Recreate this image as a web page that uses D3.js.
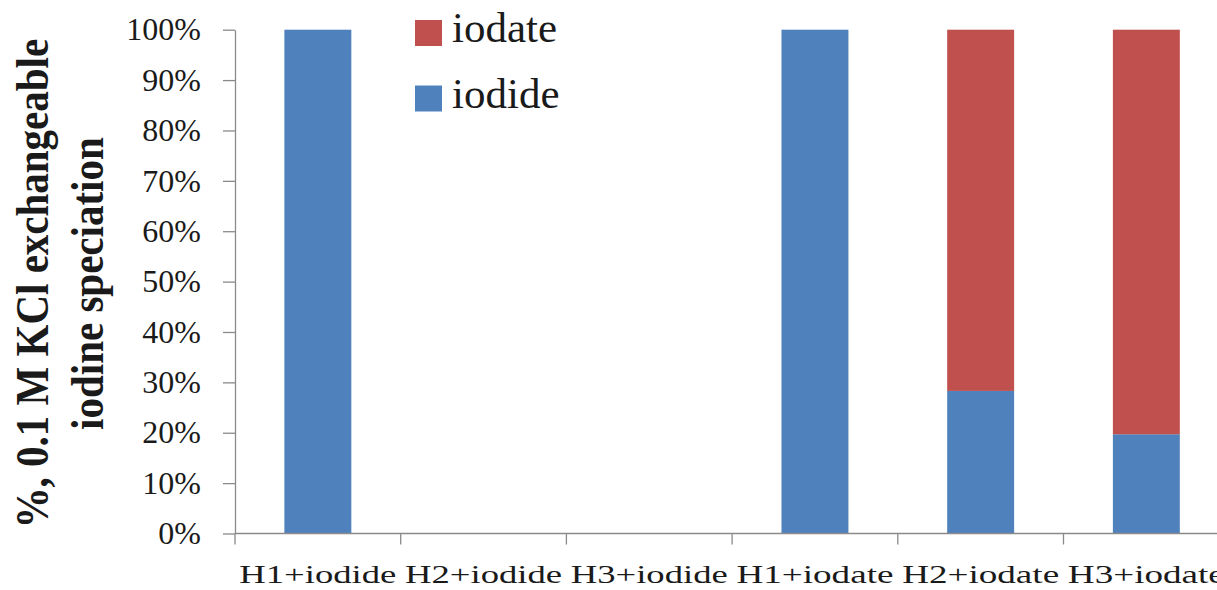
<!DOCTYPE html>
<html>
<head>
<meta charset="utf-8">
<script src="https://cdn.jsdelivr.net/npm/d3@7"></script>
<style>
  html, body { margin: 0; padding: 0; background: #fff; overflow: hidden; }
  svg { display: block; font-family: "Liberation Serif", "DejaVu Serif", serif; }
</style>
</head>
<body>
<svg id="chart" width="1217" height="590"></svg>
<script>
// Treatments on the x axis
const categories = ["H1+iodide", "H2+iodide", "H3+iodide", "H1+iodate", "H2+iodate", "H3+iodate"];
// Share of KCl-exchangeable iodine (%) per species
const iodide = [100, 0, 0, 100, 28.3, 19.7];
const iodate = [0, 0, 0, 0, 71.7, 80.3];
const seriesNames = ["iodide", "iodate"];
const seriesColors = ["#4F81BD", "#C0504D"];
const yTicks = [0, 0.1, 0.2, 0.3, 0.4, 0.5, 0.6, 0.7, 0.8, 0.9, 1.0];
const yTitleLines = ["%, 0.1 M KCl exchangeable", "iodine speciation"];

const svg = d3.select("#chart");
const axisColor = "#8a8a8a";

const plot = { left: 235, top: 29.7, bottom: 533.5, step: 165.7 };

const rows = categories.map((c, i) => ({ cat: c, iodide: iodide[i] / 100, iodate: iodate[i] / 100 }));
const stacked = d3.stack().keys(seriesNames)(rows);

const x = d3.scaleBand()
  .domain(categories)
  .range([plot.left, plot.left + plot.step * categories.length])
  .paddingInner(0.596)
  .paddingOuter(0.298);

const y = d3.scaleLinear().domain([0, 1]).range([plot.bottom, plot.top]);

// Bars
svg.append("g").selectAll("g")
  .data(stacked)
  .join("g")
  .attr("fill", (d, i) => seriesColors[i])
  .selectAll("rect")
  .data(d => d)
  .join("rect")
  .attr("x", d => x(d.data.cat))
  .attr("width", x.bandwidth())
  .attr("y", d => y(d[1]))
  .attr("height", d => y(d[0]) - y(d[1]));

// Y axis
const yAxis = svg.append("g")
  .attr("transform", `translate(${plot.left},0)`)
  .call(d3.axisLeft(y).tickValues(yTicks).tickFormat(d3.format(".0%"))
    .tickSizeInner(12).tickSizeOuter(0).tickPadding(22));
yAxis.select(".domain").attr("stroke", axisColor).attr("stroke-width", 1.3);
yAxis.selectAll(".tick line").attr("stroke", axisColor).attr("stroke-width", 1.3);
yAxis.selectAll(".tick text")
  .attr("font-family", "Liberation Serif, serif")
  .attr("font-size", 32)
  .attr("fill", "#1a1a1a");

// X axis line and category boundary ticks
const xAxis = svg.append("g");
xAxis.append("line")
  .attr("x1", plot.left).attr("x2", x.range()[1])
  .attr("y1", y(0)).attr("y2", y(0))
  .attr("stroke", axisColor).attr("stroke-width", 1.3);
xAxis.selectAll("line.tick")
  .data(d3.range(categories.length + 1))
  .join("line")
  .attr("class", "tick")
  .attr("x1", i => x.range()[0] + i * x.step())
  .attr("x2", i => x.range()[0] + i * x.step())
  .attr("y1", y(0)).attr("y2", y(0) + 11)
  .attr("stroke", axisColor).attr("stroke-width", 1.3);
xAxis.selectAll("text")
  .data(categories)
  .join("text")
  .attr("x", d => x(d) + x.bandwidth() / 2)
  .attr("y", 583)
  .attr("text-anchor", "middle")
  .attr("font-size", 26)
  .attr("fill", "#1a1a1a")
  .attr("textLength", 157)
  .attr("lengthAdjust", "spacingAndGlyphs")
  .text(d => d);

// Y axis title (two lines, rotated)
const titleBaselines = [48, 103];
svg.append("g").selectAll("text")
  .data(yTitleLines)
  .join("text")
  .attr("transform", (d, i) => `translate(${titleBaselines[i]},${(plot.top + plot.bottom) / 2 + 2}) scale(1.14,1) rotate(-90)`)
  .attr("text-anchor", "middle")
  .attr("font-size", 41)
  .attr("font-weight", "bold")
  .attr("fill", "#1a1a1a")
  .text(d => d);

// Legend (iodate above iodide)
const legendItems = [
  { name: "iodate", color: seriesColors[1] },
  { name: "iodide", color: seriesColors[0] }
];
const legend = svg.append("g").selectAll("g")
  .data(legendItems)
  .join("g")
  .attr("transform", (d, i) => `translate(415,${20 + i * 65.5})`);
legend.append("rect")
  .attr("width", 27).attr("height", 26)
  .attr("fill", d => d.color);
legend.append("text")
  .attr("x", 37).attr("y", 22)
  .attr("font-size", 43)
  .attr("fill", "#1a1a1a")
  .text(d => d.name);
</script>
</body>
</html>
